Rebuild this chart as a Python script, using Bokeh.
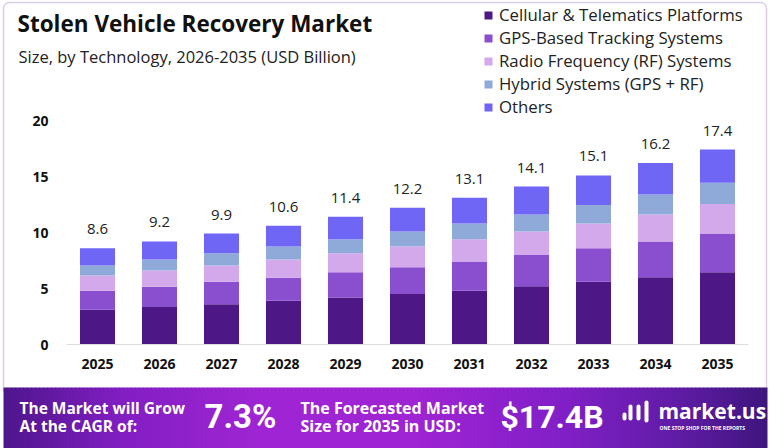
import numpy as np
from bokeh.plotting import figure
from bokeh.models import (ColumnDataSource, Legend, LegendItem, Label, BoxAnnotation,
                          FixedTicker, Range1d)
from bokeh.core.properties import value
from bokeh.embed import file_html
from bokeh.resources import INLINE

years = ["2025", "2026", "2027", "2028", "2029", "2030", "2031", "2032", "2033", "2034", "2035"]
cellular = [3.1, 3.35, 3.6, 3.9, 4.2, 4.5, 4.8, 5.2, 5.6, 6.0, 6.45]
gps = [1.7, 1.8, 2.0, 2.05, 2.25, 2.4, 2.6, 2.8, 3.0, 3.2, 3.45]
rf = [1.35, 1.45, 1.45, 1.65, 1.7, 1.85, 2.0, 2.1, 2.2, 2.4, 2.65]
hybrid = [0.9, 1.0, 1.1, 1.15, 1.25, 1.35, 1.4, 1.5, 1.65, 1.8, 1.9]
others = [1.55, 1.6, 1.75, 1.85, 2.0, 2.1, 2.3, 2.5, 2.65, 2.8, 2.95]
totals = [8.6, 9.2, 9.9, 10.6, 11.4, 12.2, 13.1, 14.1, 15.1, 16.2, 17.4]
segments = ["Cellular & Telematics Platforms", "GPS-Based Tracking Systems",
            "Radio Frequency (RF) Systems", "Hybrid Systems (GPS + RF)", "Others"]
colors = ["#4e1786", "#8a4fcf", "#d3a9ec", "#8fa9d9", "#6f66f6"]
y_ticks = [0, 5, 10, 15, 20]
cagr_text = "7.3%"
forecast_text = "$17.4B"

FONT = "Open Sans"
W, H = 770, 448
PL, PR, PB = 66, 748, 344          # plot-area edges on the page (px)
n = len(years)
xpx = (PR - PL) / n                # px per category
ypx = 11.2                         # px per unit
x_lo = -0.5 - PL / xpx
x_hi = n - 0.5 + (W - PR) / xpx
y_lo = -(H - PB) / ypx
y_hi = PB / ypx

xi = list(range(n))
src = ColumnDataSource(dict(xi=xi, year=years, c0=cellular, c1=gps, c2=rf, c3=hybrid,
                            c4=others, total=totals, label=[f"{t:.1f}" for t in totals]))

p = figure(x_range=Range1d(x_lo, x_hi), y_range=Range1d(y_lo, y_hi), width=W, height=H,
           output_backend="svg", toolbar_location=None, min_border=0)
p.outline_line_color = None
p.background_fill_color = "white"
p.border_fill_color = "white"
p.xgrid.grid_line_color = None
p.ygrid.grid_line_color = None

rs = p.vbar_stack(["c0", "c1", "c2", "c3", "c4"], x="xi", width=0.565, source=src,
                  color=colors, line_color=None)

p.text(x="xi", y="total", text="label", source=src, text_align="center",
       text_baseline="middle", y_offset=-19, text_font=value(FONT),
       text_font_size="15px", text_color="#222222")

p.yaxis.fixed_location = -0.5
p.yaxis.ticker = FixedTicker(ticks=y_ticks)
p.yaxis.axis_line_color = None
p.yaxis.major_tick_line_color = None
p.yaxis.minor_tick_line_color = None
p.yaxis.major_tick_out = 0
p.yaxis.major_label_standoff = 18
p.yaxis.major_label_text_font = FONT
p.yaxis.major_label_text_font_style = "bold"
p.yaxis.major_label_text_font_size = "14px"
p.yaxis.major_label_text_color = "#111111"

p.xaxis.fixed_location = 0
p.xaxis.bounds = (-0.5, n - 0.5)
p.xaxis.ticker = FixedTicker(ticks=xi)
p.xaxis.major_label_overrides = {i: y for i, y in zip(xi, years)}
p.xaxis.axis_line_color = "#dddddd"
p.xaxis.major_tick_line_color = None
p.xaxis.minor_tick_line_color = None
p.xaxis.major_tick_out = 0
p.xaxis.major_label_standoff = 14
p.xaxis.major_label_text_font = FONT
p.xaxis.major_label_text_font_style = "bold"
p.xaxis.major_label_text_font_size = "14px"
p.xaxis.major_label_text_color = "#111111"

legend = Legend(items=[LegendItem(label=s, renderers=[r]) for s, r in zip(segments, rs)],
                location=(483, 330), orientation="vertical")
legend.label_text_font = FONT
legend.label_text_font_size = "16.8px"
legend.label_text_color = "#222222"
legend.glyph_width = 10
legend.glyph_height = 10
legend.label_height = 21
legend.label_standoff = 6
legend.spacing = -2
legend.padding = 0
legend.margin = 0
legend.border_line_color = None
legend.background_fill_alpha = 0
p.add_layout(legend, "center")

U = dict(x_units="canvas", y_units="canvas")
BU = dict(left_units="canvas", right_units="canvas", top_units="canvas", bottom_units="canvas")


def label(x, y, t, size, bold=False, font=FONT, align="left", color="#111111"):
    p.add_layout(Label(x=x, y=y, text=t, text_font=font, text_font_size=size,
                       text_font_style="bold" if bold else "normal", text_color=color,
                       text_align=align, text_baseline="middle", **U))


label(17, 23, "Stolen Vehicle Recovery Market", "22.5px", bold=True)
label(18, 56, "Size, by Technology, 2026-2035 (USD Billion)", "16.5px", color="#222222")

# outer rounded border
p.add_layout(BoxAnnotation(left=3, right=766, top=2, bottom=395, fill_alpha=0,
                           line_color="#8e5aa8", line_width=1.5, border_radius=6, **BU))

# footer gradient as thin strips
stops_x = [3, 120, 260, 420, 560, 680, 767]
stops_c = np.array([[78, 22, 140], [130, 30, 195], [160, 38, 212], [158, 36, 212],
                    [130, 32, 200], [95, 28, 165], [62, 22, 125]])
step = 4
for x0 in range(3, 767, step):
    xm = x0 + step / 2
    rgb = [int(np.interp(xm, stops_x, stops_c[:, k])) for k in range(3)]
    p.add_layout(BoxAnnotation(left=x0, right=min(x0 + step + 0.6, 767), top=387, bottom=448,
                               fill_color="#%02x%02x%02x" % tuple(rgb), fill_alpha=1,
                               line_color=None, **BU))

label(19, 407, "The Market will Grow", "15.5px", bold=True, color="white")
label(19, 425, "At the CAGR of:", "15.5px", bold=True, color="white")
label(204, 416, cagr_text, "33px", bold=True, font="Roboto", color="white")
label(300, 407, "The Forecasted Market", "16px", bold=True, color="white")
label(300, 425, "Size for 2035 in USD:", "16px", bold=True, color="white")
label(500, 416, forecast_text, "32px", bold=True, font="Roboto", color="white")
label(658, 410, "market.us", "21px", bold=True, color="white")
label(659, 427, "ONE STOP SHOP FOR THE REPORTS", "5px", bold=True, color="white")
for (l, r_, t, b) in [(622, 626, 412, 420), (628, 632, 404, 420), (636, 640, 404, 420),
                      (644, 648, 400, 422)]:
    p.add_layout(BoxAnnotation(left=l, right=r_, top=t, bottom=b, fill_color="white",
                               fill_alpha=1, line_color=None, border_radius=2, **BU))

open("out.html", "w").write(file_html(p, INLINE))
